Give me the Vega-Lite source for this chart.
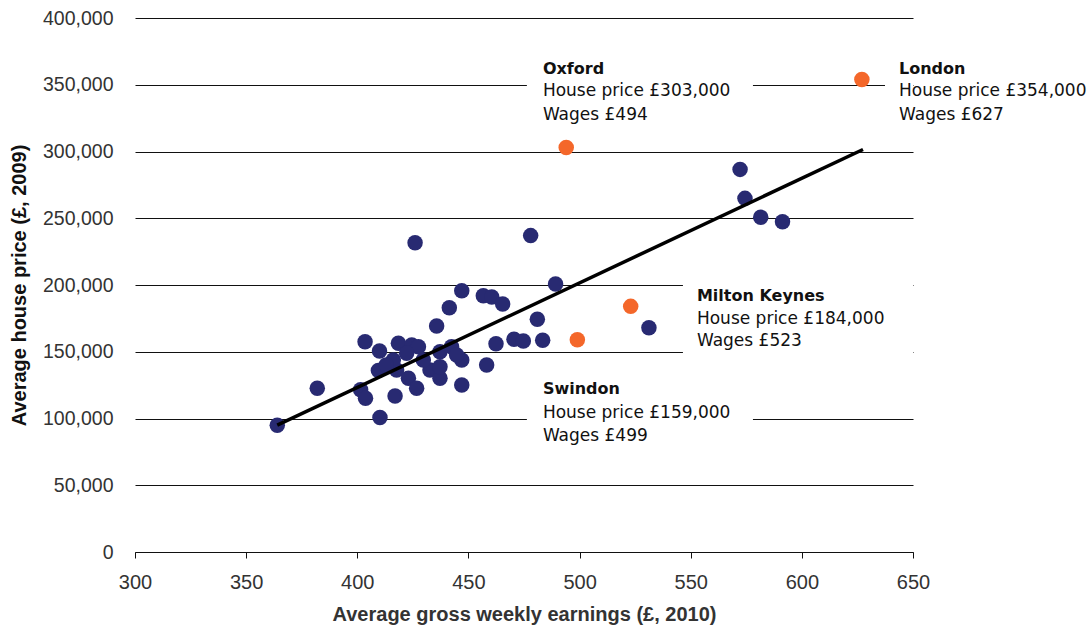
{
  "$schema": "https://vega.github.io/schema/vega-lite/v6.json",
  "width": 778,
  "height": 534,
  "autosize": {"type": "none"},
  "padding": {"left": 135, "top": 18, "right": 176, "bottom": 78},
  "background": "white",
  "config": {
    "view": {"stroke": null},
    "axisX": {
      "grid": false, "domain": true, "domainColor": "#111", "domainWidth": 1,
      "ticks": true, "tickColor": "#111", "tickSize": 6,
      "labelFont": "Liberation Sans", "labelFontSize": 20, "labelColor": "#333", "labelPadding": 14, "labelFlush": false,
      "titleFont": "Liberation Sans", "titleFontSize": 20, "titleFontWeight": "bold", "titleColor": "#333", "titlePadding": 12
    },
    "axisY": {
      "grid": true, "gridColor": "#111", "gridWidth": 1, "domain": false,
      "ticks": false,
      "labelFont": "Liberation Sans", "labelFontSize": 19.5, "labelColor": "#333", "labelPadding": 22, "labelFlush": false,
      "titleFont": "Liberation Sans", "titleFontSize": 20, "titleFontWeight": "bold", "titleColor": "#111", "titlePadding": 13
    }
  },
  "datasets": {
    "cities": [
      {"wages": 364, "price": 95000, "group": "other"},
      {"wages": 382, "price": 122600, "group": "other"},
      {"wages": 403.5, "price": 157500, "group": "other"},
      {"wages": 401.5, "price": 121500, "group": "other"},
      {"wages": 403.7, "price": 115100, "group": "other"},
      {"wages": 410.2, "price": 100700, "group": "other"},
      {"wages": 410, "price": 150500, "group": "other"},
      {"wages": 409.5, "price": 136000, "group": "other"},
      {"wages": 417, "price": 116900, "group": "other"},
      {"wages": 418.5, "price": 156300, "group": "other"},
      {"wages": 424.5, "price": 155100, "group": "other"},
      {"wages": 427.5, "price": 153800, "group": "other"},
      {"wages": 417.7, "price": 136300, "group": "other"},
      {"wages": 423, "price": 130100, "group": "other"},
      {"wages": 426.7, "price": 122600, "group": "other"},
      {"wages": 432.7, "price": 136300, "group": "other"},
      {"wages": 437.2, "price": 130100, "group": "other"},
      {"wages": 437.2, "price": 150000, "group": "other"},
      {"wages": 442.4, "price": 153800, "group": "other"},
      {"wages": 447, "price": 143800, "group": "other"},
      {"wages": 447, "price": 125100, "group": "other"},
      {"wages": 429.7, "price": 143800, "group": "other"},
      {"wages": 435.7, "price": 169300, "group": "other"},
      {"wages": 441.4, "price": 183000, "group": "other"},
      {"wages": 447, "price": 195700, "group": "other"},
      {"wages": 426, "price": 231700, "group": "other"},
      {"wages": 478, "price": 237000, "group": "other"},
      {"wages": 456.7, "price": 192000, "group": "other"},
      {"wages": 460.5, "price": 191000, "group": "other"},
      {"wages": 465.4, "price": 185800, "group": "other"},
      {"wages": 481, "price": 174300, "group": "other"},
      {"wages": 489.2, "price": 200700, "group": "other"},
      {"wages": 462.4, "price": 156000, "group": "other"},
      {"wages": 470.5, "price": 159300, "group": "other"},
      {"wages": 474.7, "price": 158000, "group": "other"},
      {"wages": 483.4, "price": 158600, "group": "other"},
      {"wages": 458.2, "price": 140100, "group": "other"},
      {"wages": 531.2, "price": 168000, "group": "other"},
      {"wages": 572.2, "price": 286600, "group": "other"},
      {"wages": 574.4, "price": 264900, "group": "other"},
      {"wages": 581.5, "price": 250700, "group": "other"},
      {"wages": 591.3, "price": 247400, "group": "other"},
      {"wages": 416.2, "price": 143800, "group": "other"},
      {"wages": 422.2, "price": 148800, "group": "other"},
      {"wages": 437.2, "price": 138800, "group": "other"},
      {"wages": 444.7, "price": 147600, "group": "other"},
      {"wages": 413, "price": 140000, "group": "other"},
      {"wages": 494, "price": 303000, "group": "highlight"},
      {"wages": 627, "price": 354000, "group": "highlight"},
      {"wages": 523, "price": 184000, "group": "highlight"},
      {"wages": 499, "price": 159000, "group": "highlight"}
    ],
    "trend": [
      {"wages": 364, "price": 95000},
      {"wages": 627.5, "price": 301500}
    ],
    "one": [{}]
  },
  "layer": [
    {
      "data": {"name": "one"},
      "mark": {"type": "rect", "color": "white"},
      "encoding": {
        "x": {"datum": 476.3, "type": "quantitative", "scale": {"domain": [300, 650], "nice": false}, "axis": {"values": [300, 350, 400, 450, 500, 550, 600, 650], "title": "Average gross weekly earnings (£, 2010)"}},
        "x2": {"datum": 578},
        "y": {"datum": 322000, "type": "quantitative", "scale": {"domain": [0, 400000], "nice": false}, "axis": {"values": [0, 50000, 100000, 150000, 200000, 250000, 300000, 350000, 400000], "format": ",d", "title": "Average house price (£, 2009)"}},
        "y2": {"datum": 378000}
      }
    },
    {
      "data": {"name": "one"},
      "mark": {"type": "rect", "color": "white"},
      "encoding": {
        "x": {"datum": 637.4, "type": "quantitative"},
        "x2": {"datum": 650},
        "y": {"datum": 322000, "type": "quantitative"},
        "y2": {"datum": 378000}
      }
    },
    {
      "data": {"name": "one"},
      "mark": {"type": "rect", "color": "white"},
      "encoding": {
        "x": {"datum": 546.5, "type": "quantitative"},
        "x2": {"datum": 650},
        "y": {"datum": 140000, "type": "quantitative"},
        "y2": {"datum": 210000}
      }
    },
    {
      "data": {"name": "one"},
      "mark": {"type": "rect", "color": "white"},
      "encoding": {
        "x": {"datum": 476.3, "type": "quantitative"},
        "x2": {"datum": 578},
        "y": {"datum": 85000, "type": "quantitative"},
        "y2": {"datum": 125000}
      }
    },
    {
      "data": {"name": "cities"},
      "mark": {"type": "circle", "size": 240, "opacity": 1},
      "encoding": {
        "x": {"field": "wages", "type": "quantitative"},
        "y": {"field": "price", "type": "quantitative"},
        "color": {"field": "group", "type": "nominal", "scale": {"domain": ["other", "highlight"], "range": ["#282a72", "#f4672a"]}, "legend": null}
      }
    },
    {
      "data": {"name": "trend"},
      "mark": {"type": "line", "color": "black", "strokeWidth": 3.5},
      "encoding": {
        "x": {"field": "wages", "type": "quantitative"},
        "y": {"field": "price", "type": "quantitative"}
      }
    },
    {
      "data": {"name": "one"},
      "mark": {"type": "text", "font": "DejaVu Sans", "fontSize": 16, "fontWeight": "bold", "align": "left", "baseline": "middle", "color": "#111", "text": "Oxford"},
      "encoding": {"x": {"datum": 483.5, "type": "quantitative"}, "y": {"datum": 361800, "type": "quantitative"}}
    },
    {
      "data": {"name": "one"},
      "mark": {"type": "text", "font": "DejaVu Sans", "fontSize": 17, "align": "left", "baseline": "middle", "lineHeight": 23.5, "color": "#111", "text": ["House price £303,000", "Wages £494"]},
      "encoding": {"x": {"datum": 483.5, "type": "quantitative"}, "y": {"datum": 345300, "type": "quantitative"}}
    },
    {
      "data": {"name": "one"},
      "mark": {"type": "text", "font": "DejaVu Sans", "fontSize": 16, "fontWeight": "bold", "align": "left", "baseline": "middle", "color": "#111", "text": "London"},
      "encoding": {"x": {"datum": 643.7, "type": "quantitative"}, "y": {"datum": 361800, "type": "quantitative"}}
    },
    {
      "data": {"name": "one"},
      "mark": {"type": "text", "font": "DejaVu Sans", "fontSize": 17, "align": "left", "baseline": "middle", "lineHeight": 23.5, "color": "#111", "text": ["House price £354,000", "Wages £627"]},
      "encoding": {"x": {"datum": 643.7, "type": "quantitative"}, "y": {"datum": 345300, "type": "quantitative"}}
    },
    {
      "data": {"name": "one"},
      "mark": {"type": "text", "font": "DejaVu Sans", "fontSize": 16, "fontWeight": "bold", "align": "left", "baseline": "middle", "color": "#111", "text": "Milton Keynes"},
      "encoding": {"x": {"datum": 552.8, "type": "quantitative"}, "y": {"datum": 192000, "type": "quantitative"}}
    },
    {
      "data": {"name": "one"},
      "mark": {"type": "text", "font": "DejaVu Sans", "fontSize": 17, "align": "left", "baseline": "middle", "lineHeight": 22.5, "color": "#111", "text": ["House price £184,000", "Wages £523"]},
      "encoding": {"x": {"datum": 552.8, "type": "quantitative"}, "y": {"datum": 174900, "type": "quantitative"}}
    },
    {
      "data": {"name": "one"},
      "mark": {"type": "text", "font": "DejaVu Sans", "fontSize": 16, "fontWeight": "bold", "align": "left", "baseline": "middle", "color": "#111", "text": "Swindon"},
      "encoding": {"x": {"datum": 483.5, "type": "quantitative"}, "y": {"datum": 122000, "type": "quantitative"}}
    },
    {
      "data": {"name": "one"},
      "mark": {"type": "text", "font": "DejaVu Sans", "fontSize": 17, "align": "left", "baseline": "middle", "lineHeight": 23, "color": "#111", "text": ["House price £159,000", "Wages £499"]},
      "encoding": {"x": {"datum": 483.5, "type": "quantitative"}, "y": {"datum": 104200, "type": "quantitative"}}
    }
  ]
}
